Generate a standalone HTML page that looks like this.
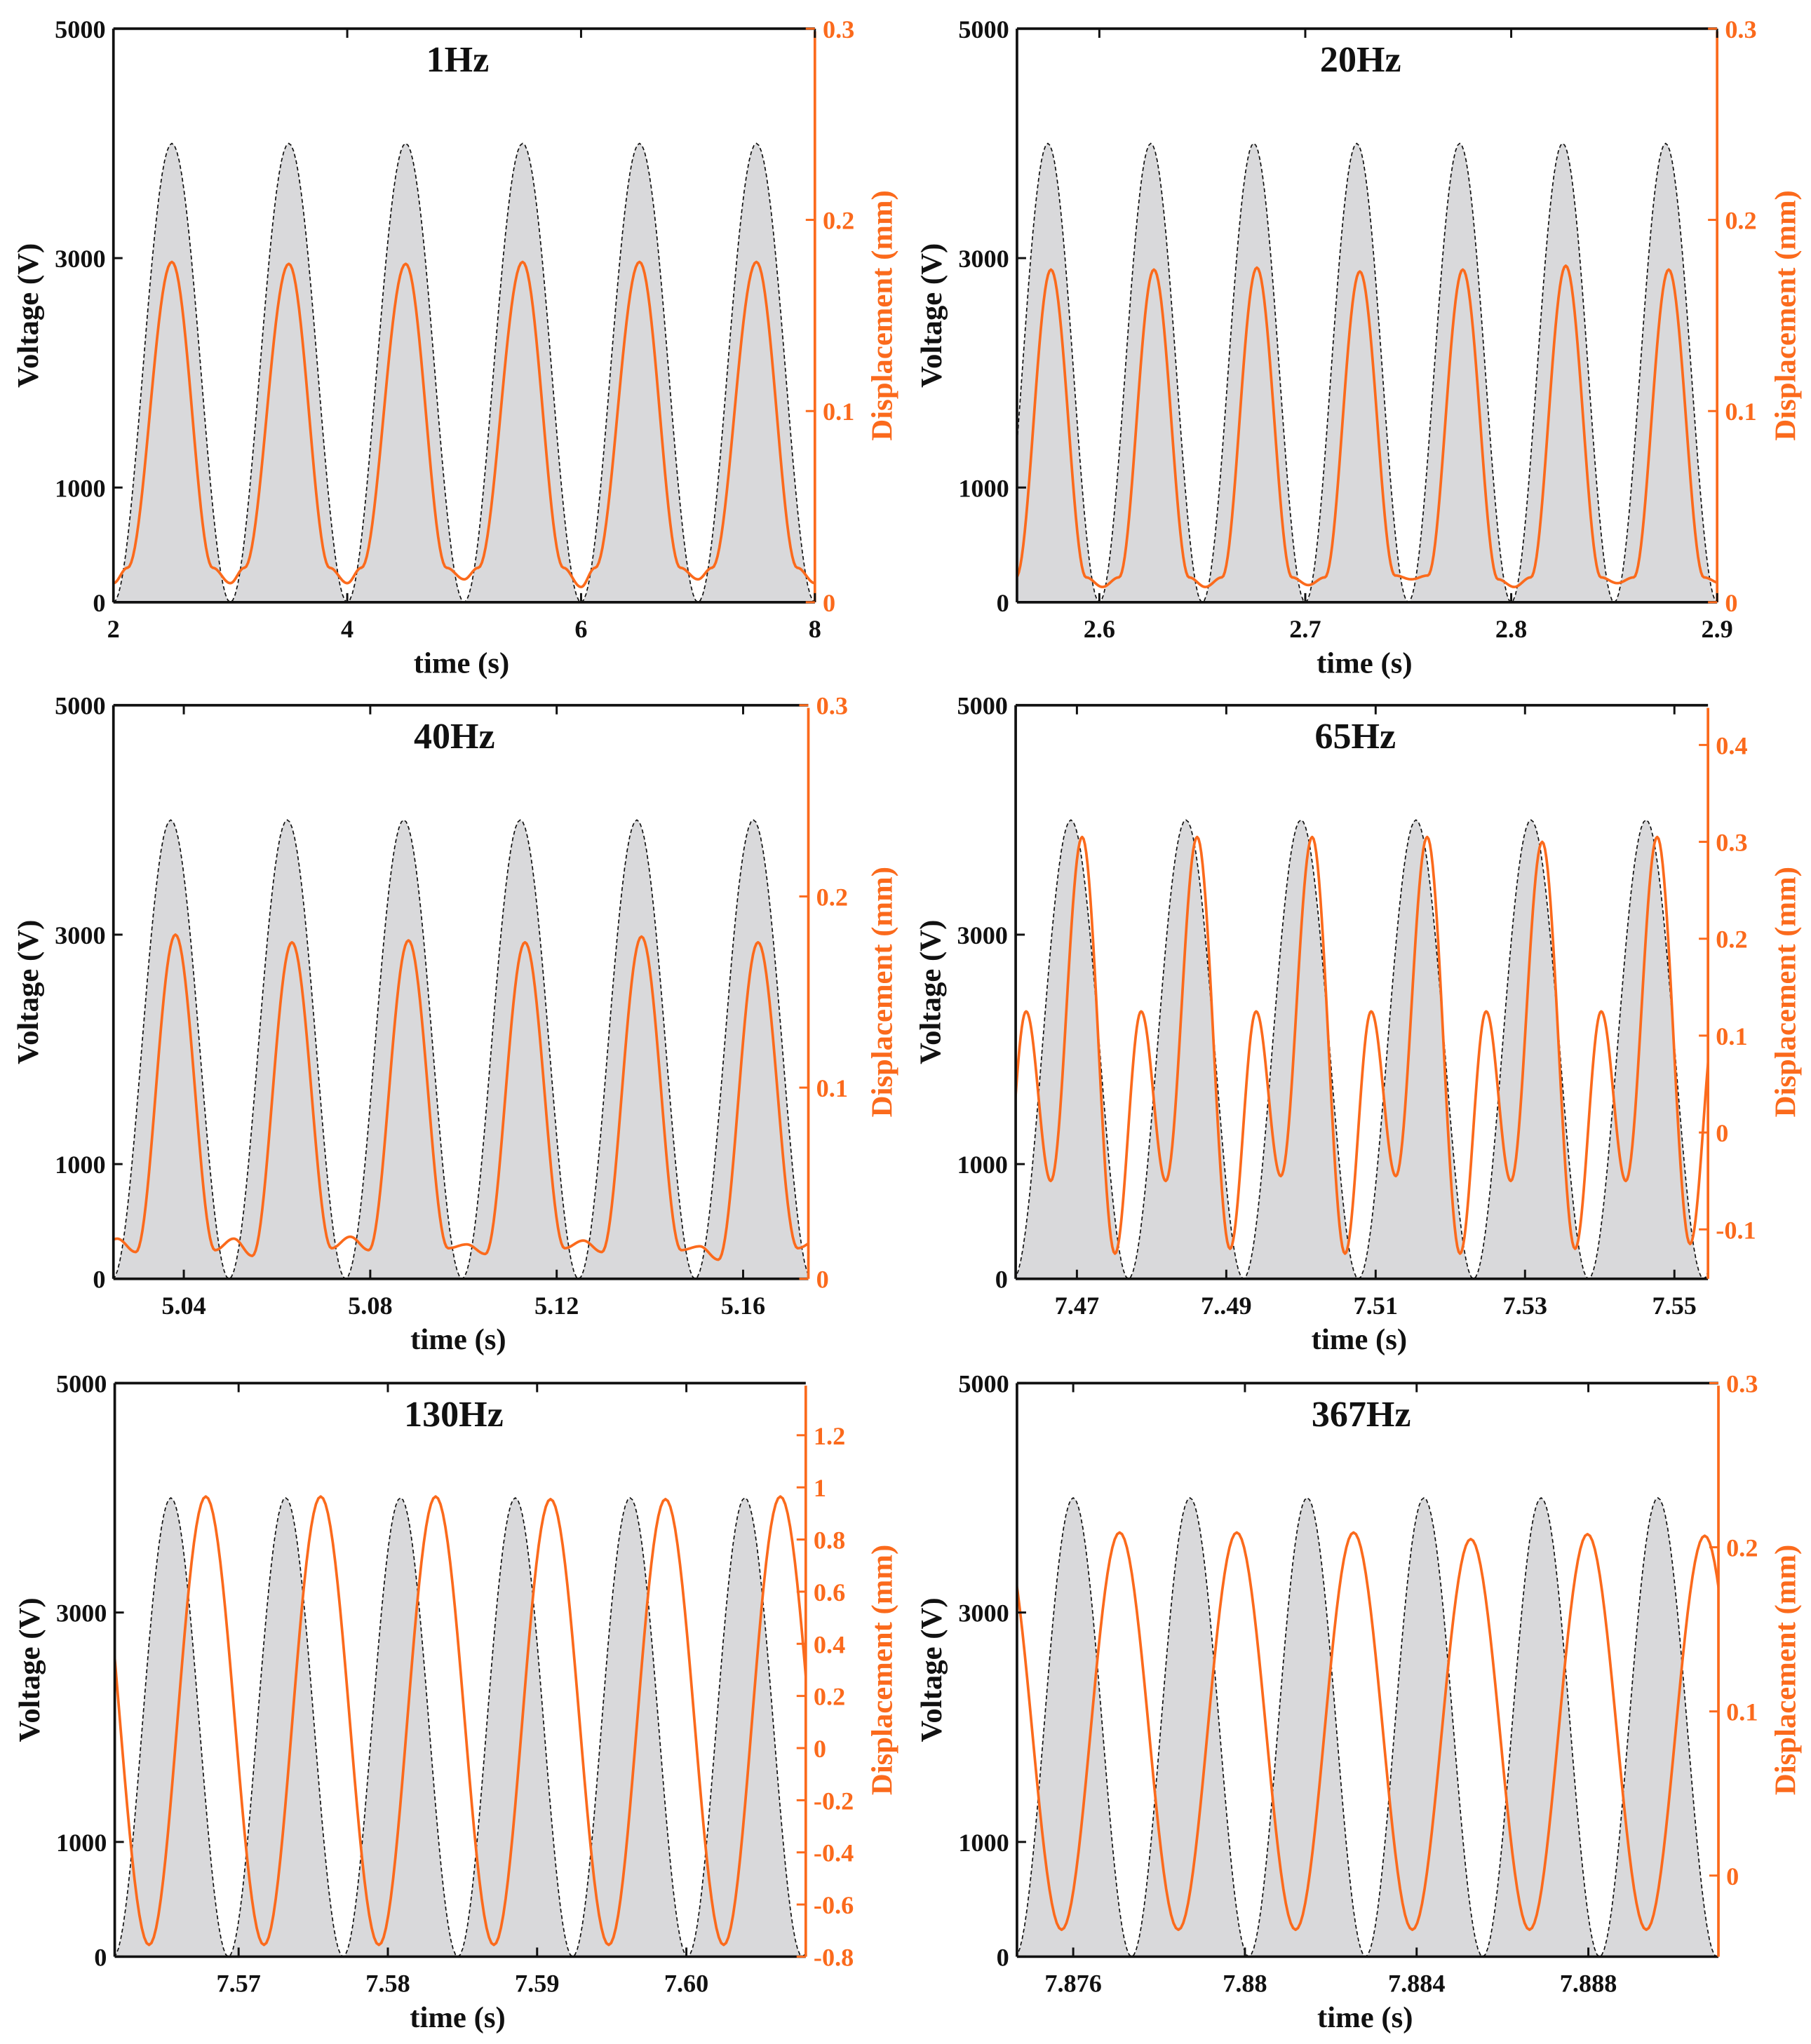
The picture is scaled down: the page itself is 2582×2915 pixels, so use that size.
<!DOCTYPE html>
<html><head><meta charset="utf-8"><style>
html,body{margin:0;padding:0;background:#fff}
svg{display:block}
text{font-family:"Liberation Serif",serif;font-weight:bold}
</style></head><body>
<svg id="fig" xmlns="http://www.w3.org/2000/svg" width="2582" height="2915" viewBox="0 0 1389 1568" preserveAspectRatio="none"></svg>
<script>
// ---------- data ----------
const p1VoltT=[2,2.5,3,3.5,4,4.5,5,5.5,6,6.5,7,7.5,8];
const p1VoltV=[0,4000,0,4000,0,4000,0,4000,0,4000,0,4000,0];
const p1DispT=[2.0,2.12,2.5,2.85,3.0,3.12,3.5,3.85,4.0,4.12,4.5,4.85,5.0,5.12,5.5,5.85,6.0,6.12,6.5,6.85,7.0,7.12,7.5,7.85,8.0];
const p1DispV=[0.010,0.018,0.178,0.018,0.010,0.018,0.177,0.018,0.010,0.018,0.177,0.018,0.012,0.018,0.178,0.018,0.008,0.018,0.178,0.018,0.012,0.018,0.178,0.018,0.010];

const p2VoltT=[2.55,2.575,2.6,2.625,2.65,2.675,2.7,2.725,2.75,2.775,2.8,2.825,2.85,2.875,2.9];
const p2VoltV=[0,4000,0,4000,0,4000,0,4000,0,4000,0,4000,0,4000,0];
const p2DispT=[2.5515,2.5595,2.5765,2.5936,2.6015,2.6095,2.6265,2.6436,2.6515,2.6595,2.6765,2.6936,2.7015,2.7095,2.7265,2.7436,2.7515,2.7595,2.7765,2.7936,2.8015,2.8095,2.8265,2.8436,2.8515,2.8595,2.8765,2.8936,2.9015];
const p2DispV=[0.008,0.013,0.174,0.013,0.008,0.013,0.174,0.013,0.008,0.013,0.175,0.013,0.009,0.013,0.173,0.014,0.012,0.014,0.174,0.012,0.008,0.013,0.176,0.013,0.010,0.013,0.174,0.013,0.010];

const p3VoltT=[5.0247,5.0372,5.0497,5.0622,5.0747,5.0872,5.0997,5.1122,5.1247,5.1372,5.1497,5.1622,5.1747];
const p3VoltV=[0,4000,0,4000,0,4000,0,4000,0,4000,0,4000,0];
const p3DispT=[5.0217,5.0257,5.0297,5.0382,5.0467,5.0507,5.0547,5.0632,5.0717,5.0757,5.0797,5.0882,5.0967,5.1007,5.1047,5.1132,5.1217,5.1257,5.1297,5.1382,5.1467,5.1507,5.1547,5.1632,5.1717,5.1757];
const p3DispV=[0.015,0.021,0.014,0.180,0.015,0.021,0.012,0.176,0.016,0.022,0.015,0.177,0.016,0.018,0.013,0.176,0.016,0.020,0.014,0.179,0.015,0.017,0.010,0.176,0.016,0.020];

const p4VoltT=[7.4615,7.4692,7.4769,7.4846,7.4923,7.5000,7.5077,7.5154,7.5231,7.5308,7.5385,7.5462,7.5539,7.5616];
const p4VoltV=[0,4000,0,4000,0,4000,0,4000,0,4000,0,4000,0,4000];
const p4DispT=[7.4597,7.4632,7.4665,7.4707,7.4751,7.4786,7.4819,7.4861,7.4905,7.4940,7.4973,7.5015,7.5059,7.5094,7.5127,7.5169,7.5213,7.5248,7.5281,7.5323,7.5367,7.5402,7.5435,7.5477,7.5521,7.5556];
const p4DispV=[-0.125,0.125,-0.050,0.305,-0.125,0.125,-0.050,0.305,-0.120,0.125,-0.045,0.305,-0.125,0.125,-0.045,0.305,-0.125,0.125,-0.050,0.300,-0.120,0.125,-0.050,0.305,-0.115,0.125];

const p5VoltT=[7.56162,7.56546,7.56931,7.57315,7.57700,7.58085,7.58469,7.58854,7.59238,7.59623,7.60008,7.60392,7.60777,7.61162];
const p5VoltV=[0,4000,0,4000,0,4000,0,4000,0,4000,0,4000,0,4000];
const p5DispT=[7.5601,7.5640,7.5678,7.5717,7.5755,7.5794,7.5832,7.5871,7.5909,7.5948,7.5986,7.6025,7.6063,7.6102];
const p5DispV=[0.965,-0.755,0.965,-0.755,0.965,-0.755,0.965,-0.755,0.955,-0.755,0.955,-0.755,0.965,-0.755];

const p6VoltT=[7.87464,7.87600,7.87736,7.87872,7.88009,7.88145,7.88281,7.88417,7.88554,7.88690,7.88826,7.88962,7.89099,7.89235];
const p6VoltV=[0,4000,0,4000,0,4000,0,4000,0,4000,0,4000,0,4000];
const p6DispT=[7.87436,7.87573,7.87708,7.87845,7.87981,7.88118,7.88253,7.88390,7.88526,7.88663,7.88798,7.88935,7.89071,7.89208];
const p6DispV=[0.209,-0.033,0.209,-0.033,0.209,-0.033,0.209,-0.033,0.205,-0.033,0.208,-0.033,0.207,-0.033];

const voltTicks=[0,1000,3000,5000];
const p1XTicks=[2,4,6,8], p1XLabels=["2","4","6","8"];
const p2XTicks=[2.6,2.7,2.8,2.9], p2XLabels=["2.6","2.7","2.8","2.9"];
const p3XTicks=[5.04,5.08,5.12,5.16], p3XLabels=["5.04","5.08","5.12","5.16"];
const p4XTicks=[7.47,7.49,7.51,7.53,7.55], p4XLabels=["7.47","7..49","7.51","7.53","7.55"];
const p5XTicks=[7.57,7.58,7.59,7.60], p5XLabels=["7.57","7.58","7.59","7.60"];
const p6XTicks=[7.876,7.88,7.884,7.888], p6XLabels=["7.876","7.88","7.884","7.888"];
const dTicksA=[0,0.1,0.2,0.3], dLabelsA=["0","0.1","0.2","0.3"];
const dTicks4=[-0.1,0,0.1,0.2,0.3,0.4], dLabels4=["-0.1","0","0.1","0.2","0.3","0.4"];
const dTicks5=[-0.8,-0.6,-0.4,-0.2,0,0.2,0.4,0.6,0.8,1,1.2], dLabels5=["-0.8","-0.6","-0.4","-0.2","0","0.2","0.4","0.6","0.8","1","1.2"];

const panels=[
 {id:"1hz",title:"1Hz",L:87,R:625,T:22,B:462,x0:2,x1:8,d0:0,d1:0.3,vt:p1VoltT,vv:p1VoltV,dt:p1DispT,dv:p1DispV,xt:p1XTicks,xl:p1XLabels,rt:dTicksA,rl:dLabelsA},
 {id:"20hz",title:"20Hz",L:780,R:1317,T:22,B:462,x0:2.560,x1:2.9,d0:0,d1:0.3,vt:p2VoltT,vv:p2VoltV,dt:p2DispT,dv:p2DispV,xt:p2XTicks,xl:p2XLabels,rt:dTicksA,rl:dLabelsA},
 {id:"40hz",title:"40Hz",L:87,R:620,T:541,B:981,x0:5.0249,x1:5.174,d0:0,d1:0.3,vt:p3VoltT,vv:p3VoltV,dt:p3DispT,dv:p3DispV,xt:p3XTicks,xl:p3XLabels,rt:dTicksA,rl:dLabelsA},
 {id:"65hz",title:"65Hz",L:779,R:1310,T:541,B:981,x0:7.4618,x1:7.5545,d0:-0.151,d1:0.441,vt:p4VoltT,vv:p4VoltV,dt:p4DispT,dv:p4DispV,xt:p4XTicks,xl:p4XLabels,rt:dTicks4,rl:dLabels4},
 {id:"130hz",title:"130Hz",L:88,R:618,T:1061,B:1501,x0:7.5617,x1:7.6080,d0:-0.8,d1:1.4,vt:p5VoltT,vv:p5VoltV,dt:p5DispT,dv:p5DispV,xt:p5XTicks,xl:p5XLabels,rt:dTicks5,rl:dLabels5},
 {id:"367hz",title:"367Hz",L:780,R:1318,T:1061,B:1501,x0:7.87469,x1:7.89103,d0:-0.0494,d1:0.3,vt:p6VoltT,vv:p6VoltV,dt:p6DispT,dv:p6DispV,xt:p6XTicks,xl:p6XLabels,rt:dTicksA,rl:dLabelsA}
];
const NS="http://www.w3.org/2000/svg";
const svg=document.getElementById("fig");
const OR="#fb6a1c";
function mk(tag,attrs,parent){const e=document.createElementNS(NS,tag);for(const k in attrs)e.setAttribute(k,attrs[k]);(parent||svg).appendChild(e);return e;}
function curve(ts,vs,sx,sy){
  let pts=[];
  for(let i=0;i<ts.length-1;i++){
    const n=24;
    for(let j=0;j<n;j++){const f=j/n,w=(1-Math.cos(Math.PI*f))/2;
      pts.push([sx(ts[i]+(ts[i+1]-ts[i])*f),sy(vs[i]+(vs[i+1]-vs[i])*w)]);}
  }
  pts.push([sx(ts[ts.length-1]),sy(vs[vs.length-1])]);
  return pts;
}
panels.forEach((p,pi)=>{
  const g=mk("g",{});
  
  
  const sx=t=>p.L+(t-p.x0)/(p.x1-p.x0)*(p.R-p.L);
  const sv=v=>p.B-v/5000*(p.B-p.T);
  const sd=d=>p.B-(d-p.d0)/(p.d1-p.d0)*(p.B-p.T);
  const cp=mk("clipPath",{id:"clip"+pi},g);
  mk("rect",{x:p.L,y:p.T,width:p.R-p.L,height:p.B-p.T},cp);
  const pg=mk("g",{"clip-path":"url(#clip"+pi+")"},g);
  const vp=curve(p.vt,p.vv,sx,sv);
  const dstr=vp.map((q,i)=>(i?"L":"M")+q[0].toFixed(2)+" "+q[1].toFixed(2)).join("");
  const fill=mk("path",{d:dstr+"L"+vp[vp.length-1][0].toFixed(2)+" "+p.B+"L"+vp[0][0].toFixed(2)+" "+p.B+"Z",fill:"#d9d9db",stroke:"none"},pg);
  
  
  const vl=mk("path",{d:dstr,fill:"none",stroke:"#111","stroke-width":0.9,"stroke-dasharray":"3 2"},pg);
  
  
  const dp=curve(p.dt,p.dv,sx,sd);
  const dl=mk("path",{d:dp.map((q,i)=>(i?"L":"M")+q[0].toFixed(2)+" "+q[1].toFixed(2)).join(""),fill:"none",stroke:OR,"stroke-width":2,"stroke-linejoin":"round"},pg);
  
  
  mk("line",{x1:p.L,y1:p.T,x2:p.R,y2:p.T,stroke:"#111","stroke-width":2},g);
  mk("line",{x1:p.L,y1:p.B,x2:p.R,y2:p.B,stroke:"#111","stroke-width":2},g);
  mk("line",{x1:p.L,y1:p.T,x2:p.L,y2:p.B,stroke:"#111","stroke-width":2},g);
  const ra=mk("line",{x1:p.R,y1:p.T+2,x2:p.R,y2:p.B,stroke:OR,"stroke-width":2},g);
  
  
  voltTicks.forEach(v=>{
    const y=sv(v);
    mk("line",{x1:p.L,y1:y,x2:p.L+7,y2:y,stroke:"#111","stroke-width":1.6},g);
    const t=mk("text",{x:p.L-6,y:y+7,"text-anchor":"end","font-size":19.5,fill:"#111"},g);
    t.textContent=v;
    
    
  });
  p.xt.forEach((v,i)=>{
    const x=sx(v);
    mk("line",{x1:x,y1:p.B,x2:x,y2:p.B-7,stroke:"#111","stroke-width":1.6},g);
    mk("line",{x1:x,y1:p.T,x2:x,y2:p.T+7,stroke:"#111","stroke-width":1.6},g);
    const t=mk("text",{x:x,y:p.B+27,"text-anchor":"middle","font-size":19.5,fill:"#111"},g);
    t.textContent=p.xl[i];
    
    
  });
  p.rt.forEach((v,i)=>{
    const y=sd(v);
    mk("line",{x1:p.R,y1:y,x2:p.R-7,y2:y,stroke:OR,"stroke-width":1.6},g);
    const t=mk("text",{x:p.R+6,y:y+7,"font-size":19.5,fill:OR},g);
    t.textContent=p.rl[i];
    
    
  });
  const cx=(p.L+p.R)/2, cy=(p.T+p.B)/2;
  const ti=mk("text",{x:cx-5,y:p.T+33,"text-anchor":"middle","font-size":28,fill:"#111"},g);
  ti.textContent=p.title;
  
  
  const xl=mk("text",{x:cx-2,y:p.B+54,"text-anchor":"middle","font-size":23,fill:"#111"},g);
  xl.textContent="time (s)";
  
  
  const yl=mk("text",{x:0,y:0,"text-anchor":"middle","font-size":23,fill:"#111",transform:"translate("+(p.L-58)+","+cy+") rotate(-90)"},g);
  yl.textContent="Voltage (V)";
  
  
  const rx=(p.R>1000?1377:684);
  const rl=mk("text",{x:0,y:0,"text-anchor":"middle","font-size":23,fill:OR,transform:"translate("+rx+","+cy+") rotate(-90)"},g);
  rl.textContent="Displacement (mm)";
  
  
});
</script>
</body></html>
